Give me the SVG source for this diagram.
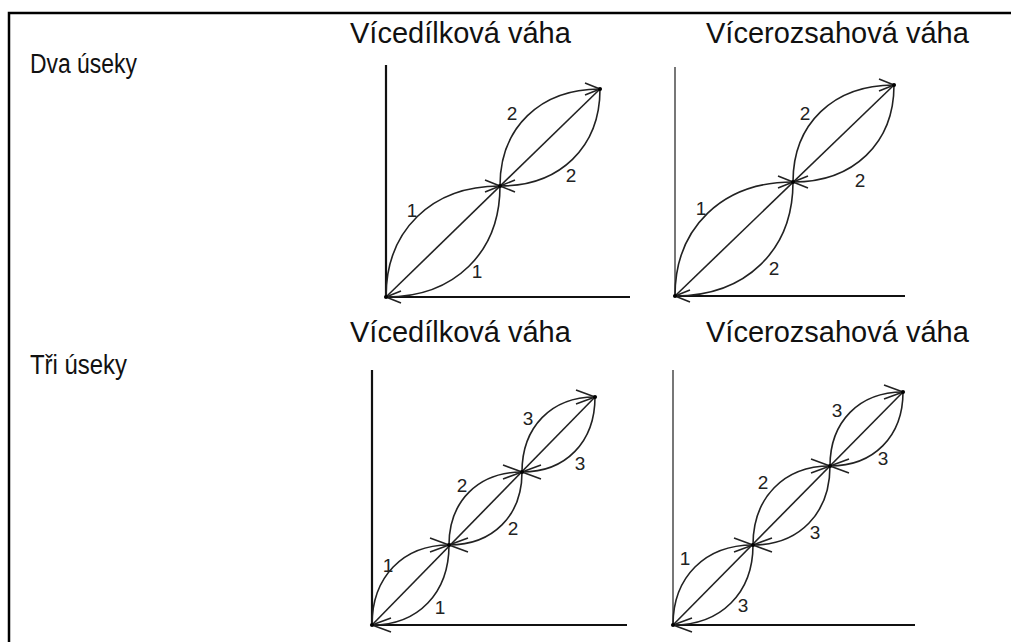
<svg xmlns="http://www.w3.org/2000/svg" width="1011" height="642" viewBox="0 0 1011 642">
<style>
.t{font-family:"Liberation Sans",Arial,sans-serif;font-size:29px;fill:#111}
.r{font-family:"Liberation Sans",Arial,sans-serif;font-size:27px;fill:#111}
.n{font-family:"Liberation Sans",Arial,sans-serif;font-size:19px;fill:#222;text-anchor:middle}
.ax{stroke:#111;stroke-width:2.2;fill:none}
.axg{stroke:#777;stroke-width:2;fill:none}
.c{stroke:#222;stroke-width:1.6;fill:none}
.ca{stroke:#222;stroke-width:1.6;fill:none;marker-end:url(#ah)}
.cb{stroke:#222;stroke-width:1.6;fill:none;marker-end:url(#ahb)}
</style>
<defs>
<marker id="ah" markerUnits="userSpaceOnUse" markerWidth="20" markerHeight="14" refX="15" refY="6" orient="auto" overflow="visible">
<path d="M0,0 L15,6 L0,12" fill="none" stroke="#222" stroke-width="1.6"/>
</marker>
<marker id="ahb" markerUnits="userSpaceOnUse" markerWidth="24" markerHeight="16" refX="19" refY="7" orient="auto" overflow="visible">
<path d="M0,0 L19,7 L0,14" fill="none" stroke="#222" stroke-width="1.6"/>
</marker>
</defs>
<rect width="1011" height="642" fill="#fff"/>
<g id="frame">
<path d="M9,642 V13 H1011" fill="none" stroke="#000" stroke-width="2.5"/>
</g>
<g id="labels">
<text class="t" x="350" y="43">Vícedílková váha</text>
<text class="t" x="706" y="43">Vícerozsahová váha</text>
<text class="r" x="30" y="73" textLength="107" lengthAdjust="spacingAndGlyphs">Dva úseky</text>
<text class="t" x="350" y="342">Vícedílková váha</text>
<text class="t" x="706" y="342">Vícerozsahová váha</text>
<text class="r" x="30" y="374" textLength="97" lengthAdjust="spacingAndGlyphs">Tři úseky</text>
</g>
<g id="d1">
<path class="ax" d="M386,65 V297 H630"/>
<g class="connectors">
<line class="c" x1="386" y1="297" x2="600" y2="89"/>
<path class="ca" d="M386,297 C386,230.4 431.6,186 500,186"/>
<path class="ca" d="M500,186 C500,252.6 454.4,297 386,297"/>
<path class="ca" d="M500,186 C500,127.8 540,89 600,89"/>
<path class="ca" d="M600,89 C600,147.2 560,186 500,186"/>
</g>
<circle cx="386" cy="297" r="2"/><circle cx="500" cy="186" r="2"/><circle cx="600" cy="89" r="2"/>
<text class="n" x="412" y="217">1</text>
<text class="n" x="477" y="278">1</text>
<text class="n" x="512" y="120">2</text>
<text class="n" x="571" y="182">2</text>
</g>
<g id="d2">
<path class="axg" d="M675,67 V296"/>
<path class="ax" d="M675,296 H905"/>
<g class="connectors">
<line class="c" x1="675" y1="296" x2="894" y2="85"/>
<path class="ca" d="M675,296 C675,227.6 722.2,182 793,182"/>
<path class="ca" d="M793,182 C793,250.4 745.8,296 675,296"/>
<path class="ca" d="M793,182 C793,123.8 833.4,85 894,85"/>
<path class="ca" d="M894,85 C894,143.2 853.6,182 793,182"/>
</g>
<circle cx="675" cy="296" r="2"/><circle cx="793" cy="182" r="2"/><circle cx="894" cy="85" r="2"/>
<text class="n" x="701" y="215">1</text>
<text class="n" x="774" y="275">2</text>
<text class="n" x="805" y="120">2</text>
<text class="n" x="860" y="187">2</text>
</g>
<g id="d3">
<path class="ax" d="M372,370 V625 H627"/>
<g class="connectors">
<line class="c" x1="372" y1="625" x2="595" y2="397"/>
<path class="cb" d="M372,625 C372,577 402.8,545 449,545"/>
<path class="cb" d="M449,545 C449,593 418.2,625 372,625"/>
<path class="cb" d="M449,545 C449,501.2 478.2,472 522,472"/>
<path class="cb" d="M522,472 C522,515.8 492.8,545 449,545"/>
<path class="cb" d="M522,472 C522,427 551.2,397 595,397"/>
<path class="cb" d="M595,397 C595,442 565.8,472 522,472"/>
</g>
<circle cx="372" cy="625" r="2"/><circle cx="449" cy="545" r="2"/><circle cx="522" cy="472" r="2"/><circle cx="595" cy="397" r="2"/>
<text class="n" x="388" y="572">1</text>
<text class="n" x="440" y="614">1</text>
<text class="n" x="462" y="492">2</text>
<text class="n" x="513" y="535">2</text>
<text class="n" x="528" y="425">3</text>
<text class="n" x="580" y="470">3</text>
</g>
<g id="d4">
<path class="axg" d="M673,370 V625"/>
<path class="ax" d="M673,625 H915"/>
<g class="connectors">
<line class="c" x1="673" y1="625" x2="903" y2="392"/>
<path class="cb" d="M673,625 C673,577 705,545 753,545"/>
<path class="cb" d="M753,545 C753,593 721,625 673,625"/>
<path class="cb" d="M753,545 C753,497.6 783.8,466 830,466"/>
<path class="cb" d="M830,466 C830,513.4 799.2,545 753,545"/>
<path class="cb" d="M830,466 C830,421.6 859.2,392 903,392"/>
<path class="cb" d="M903,392 C903,436.4 873.8,466 830,466"/>
</g>
<circle cx="673" cy="625" r="2"/><circle cx="753" cy="545" r="2"/><circle cx="830" cy="466" r="2"/><circle cx="903" cy="392" r="2"/>
<text class="n" x="685" y="565">1</text>
<text class="n" x="743" y="612">3</text>
<text class="n" x="763" y="489">2</text>
<text class="n" x="815" y="539">3</text>
<text class="n" x="837" y="417">3</text>
<text class="n" x="883" y="465">3</text>
</g>
</svg>
